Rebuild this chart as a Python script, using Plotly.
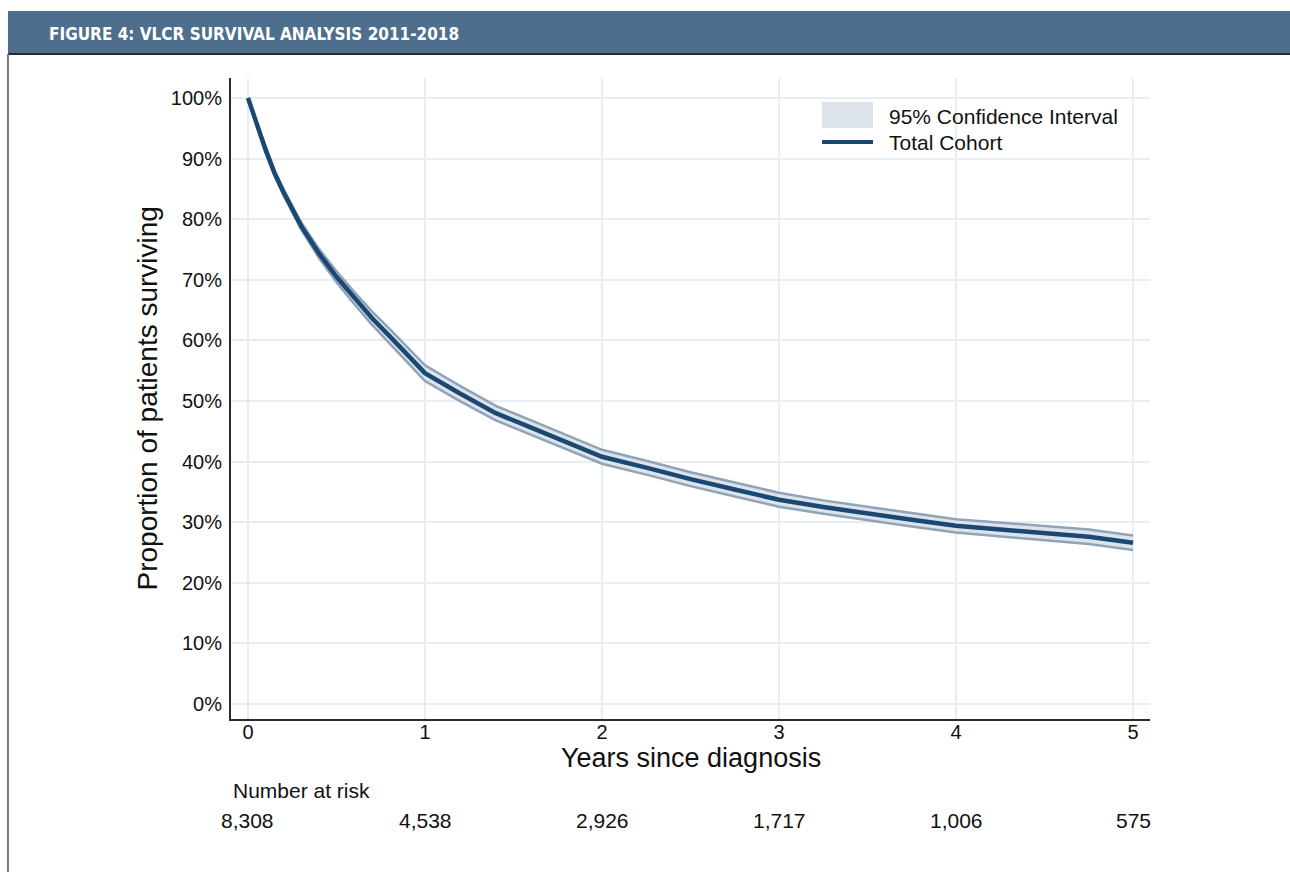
import plotly.graph_objects as go

# Kaplan-Meier estimate for the total cohort (years since diagnosis, % surviving)
years = [0, 0.05, 0.1, 0.15, 0.2, 0.3, 0.4, 0.5, 0.6, 0.7, 0.8, 0.9, 1.0,
         1.2, 1.4, 1.6, 1.8, 2.0, 2.25, 2.5, 2.75, 3.0, 3.25, 3.5, 3.75,
         4.0, 4.25, 4.5, 4.75, 5.0]
survival = [100, 95.6, 91.4, 87.6, 84.5, 78.9, 74.4, 70.5, 67.0, 63.7, 60.7,
            57.6, 54.6, 51.2, 48.0, 45.6, 43.2, 40.8, 39.0, 37.1, 35.4, 33.7,
            32.5, 31.4, 30.4, 29.4, 28.8, 28.2, 27.6, 26.6]
ci_upper = [100, 95.9, 91.8, 88.05, 85.0, 79.5, 75.15, 71.4, 68.0, 64.8,
            61.9, 58.85, 55.9, 52.45, 49.2, 46.8, 44.35, 41.95, 40.15,
            38.25, 36.55, 34.85, 33.6, 32.5, 31.5, 30.5, 29.9, 29.35,
            28.8, 27.8]
ci_lower = [100, 95.3, 91.0, 87.15, 84.0, 78.3, 73.65, 69.6, 66.0, 62.6,
            59.5, 56.35, 53.3, 49.95, 46.8, 44.4, 42.05, 39.65, 37.85,
            35.95, 34.25, 32.55, 31.4, 30.3, 29.3, 28.3, 27.7, 27.05,
            26.4, 25.4]

# Number-at-risk table
risk_years = [0, 1, 2, 3, 4, 5]
risk_counts = ["8,308", "4,538", "2,926", "1,717", "1,006", "575"]

y_ticks = list(range(0, 101, 10))
x_ticks = [0, 1, 2, 3, 4, 5]

NAVY = "#1b4873"
CI_EDGE = "#8fa3b9"
CI_FILL = "#dde3ea"
GRID = "#e7eef1"
HEADER = "#4e6e8d"
FONT = "Arial, Liberation Sans, sans-serif"

fig = go.Figure()

fig.add_trace(go.Scatter(
    x=years, y=ci_upper, mode="lines", name="95% Confidence Interval",
    line=dict(color=CI_EDGE, width=2.5), showlegend=False, hoverinfo="skip"))
fig.add_trace(go.Scatter(
    x=years, y=ci_lower, mode="lines", fill="tonexty", fillcolor=CI_FILL,
    line=dict(color=CI_EDGE, width=2.5), showlegend=False, hoverinfo="skip"))
fig.add_trace(go.Scatter(
    x=years, y=survival, mode="lines", name="Total Cohort",
    line=dict(color=NAVY, width=4.5), showlegend=False))

shapes = [
    # header band
    dict(type="rect", xref="paper", yref="paper", x0=-0.2427, x1=1.1524,
         y0=1.0374, y1=1.1045, fillcolor=HEADER, line=dict(width=0),
         layer="below"),
    dict(type="line", xref="paper", yref="paper", x0=-0.2427, x1=1.1524,
         y0=1.0374, y1=1.0374, line=dict(color="#2b2b2b", width=2)),
    # left frame rule
    dict(type="line", xref="paper", yref="paper", x0=-0.2427, x1=-0.2427,
         y0=1.0374, y1=-0.24, line=dict(color="#7a7a7a", width=2)),
    # legend keys
    dict(type="rect", xref="paper", yref="paper", x0=0.6431, x1=0.6986,
         y0=0.9220, y1=0.9626, fillcolor=CI_FILL, line=dict(width=0)),
    dict(type="line", xref="paper", yref="paper", x0=0.6431, x1=0.6986,
         y0=0.9002, y1=0.9002, line=dict(color=NAVY, width=4)),
]

annotations = [
    dict(text="<b>FIGURE 4: VLCR SURVIVAL ANALYSIS 2011-2018</b>",
         xref="paper", yref="paper", x=-0.2002, y=1.0690, xanchor="left",
         yanchor="middle", showarrow=False,
         font=dict(family="DejaVu Sans Condensed, sans-serif",
                   size=17, color="white")),
    dict(text="95% Confidence Interval", xref="paper", yref="paper",
         x=0.7138, y=0.9407, xanchor="left", yanchor="middle",
         showarrow=False, font=dict(family=FONT, size=21, color="#111")),
    dict(text="Total Cohort", xref="paper", yref="paper",
         x=0.7138, y=0.8986, xanchor="left", yanchor="middle",
         showarrow=False, font=dict(family=FONT, size=21, color="#111")),
    dict(text="Proportion of patients surviving", xref="paper", yref="paper",
         x=-0.0914, y=0.5, xanchor="center", yanchor="middle", textangle=-90,
         showarrow=False, font=dict(family=FONT, size=28, color="#111")),
    dict(text="Years since diagnosis", xref="paper", yref="paper",
         x=0.5, y=-0.0608, xanchor="center", yanchor="middle",
         showarrow=False, font=dict(family=FONT, size=27, color="#111")),
    dict(text="Number at risk", xref="paper", yref="paper",
         x=0.0, y=-0.1108, xanchor="left", yanchor="middle",
         showarrow=False, font=dict(family=FONT, size=21, color="#111")),
]
for yr, n in zip(risk_years, risk_counts):
    annotations.append(dict(
        text=n, xref="x", yref="paper", x=yr, y=-0.1576,
        xanchor="center", yanchor="middle", showarrow=False,
        font=dict(family=FONT, size=21, color="#111")))

fig.update_layout(
    width=1290, height=872,
    margin=dict(l=231, r=140, t=78, b=153),
    paper_bgcolor="white", plot_bgcolor="white",
    font=dict(family=FONT, size=20, color="#111"),
    showlegend=False,
    shapes=shapes,
    annotations=annotations,
    xaxis=dict(
        range=[-0.096, 5.096], tickvals=x_ticks,
        ticktext=[str(v) for v in x_ticks],
        showgrid=True, gridcolor=GRID, gridwidth=2, zeroline=False,
        showline=True, linecolor="#2b2b2b", linewidth=2,
        ticks="", ticklabelstandoff=-6,
        tickfont=dict(family=FONT, size=20, color="#111")),
    yaxis=dict(
        range=[-2.475, 103.3], tickvals=y_ticks,
        ticktext=[f"{v}%" for v in y_ticks],
        showgrid=True, gridcolor=GRID, gridwidth=2, zeroline=False,
        showline=True, linecolor="#2b2b2b", linewidth=2,
        ticks="", ticklabelstandoff=3,
        tickfont=dict(family=FONT, size=20, color="#111")),
)

fig.write_html("out.html")
